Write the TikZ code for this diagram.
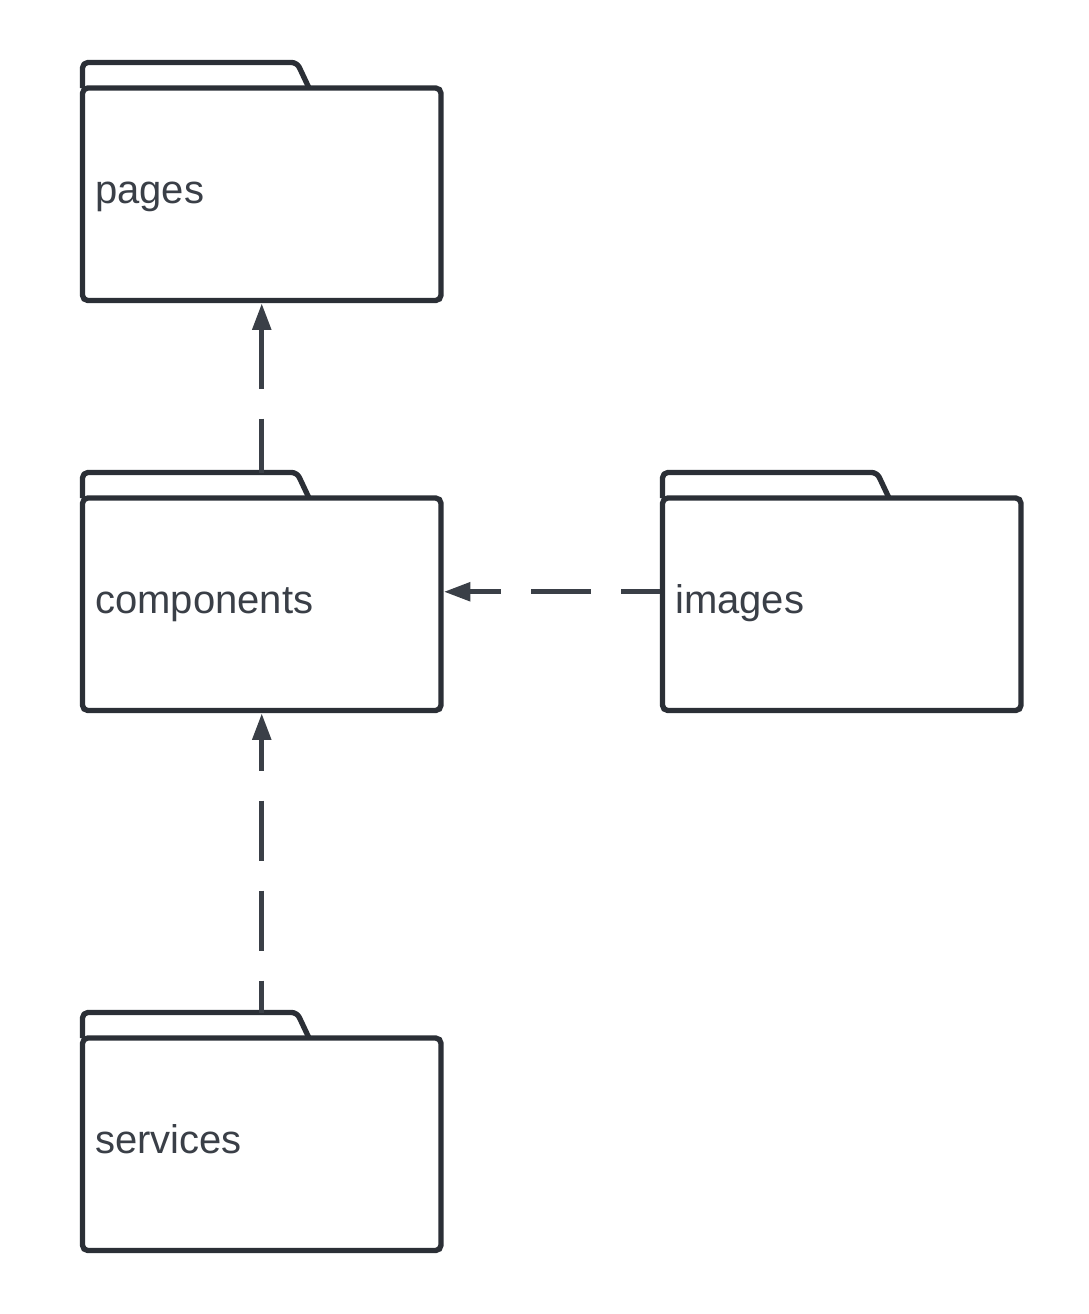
\documentclass[tikz,border=0pt]{standalone}
\usepackage{fontspec}
\setmainfont{Liberation Sans}
\usetikzlibrary{arrows.meta,calc}
\definecolor{ink}{HTML}{2B2F36}
\definecolor{arr}{HTML}{3A3F47}
\definecolor{txt}{HTML}{3A3F47}
\begin{document}
\begin{tikzpicture}[x=0.75pt,y=-0.75pt,
  body/.style={draw=ink,line width=4pt,rounded corners=4pt,minimum width=268.9pt,minimum height=159.4pt,inner sep=0pt,fill=white},
  tabline/.style={draw=ink,line width=4pt,rounded corners=4pt,line join=round},
  lbl/.style={anchor=base west,inner sep=0pt,text=txt,font=\fontsize{30pt}{36pt}\selectfont},
  dep/.style={draw=arr,line width=4pt,dash pattern=on 45pt off 22.5pt,{Triangle[length=20pt,width=13.5pt]}-},
  shifted/.style={dash phase=21pt}]
\useasboundingbox (0,0) rectangle (1089,1314);
\newcommand\mkfolder[4]{%
  \node[body] (#1) at (#2,#3) {};
  \draw[tabline] ($(#1.center)+(-179.25,-106.25)$) -- ++(0,-25.5) -- ++(214.5,0) -- ++(12,25.5);
  \coordinate (#1tab) at ($(#1.center)+(0,-131.75)$);
  \node[lbl] (#1L) at ($(#1.center)+(-166.75,8.75)$) {#4};
}
\mkfolder{pages}{261.75}{194.25}{pages}
\mkfolder{components}{261.75}{604.25}{components}
\mkfolder{images}{841.75}{604.25}{images}
\mkfolder{services}{261.75}{1144.25}{services}
\draw[dep] (pages.south) -- (componentstab);
\draw[dep,shifted] ($(components.east)+(0,-12.5)$) -- ($(images.west)+(0,-12.5)$);
\draw[dep,shifted] (components.south) -- (servicestab);
\end{tikzpicture}
\end{document}
